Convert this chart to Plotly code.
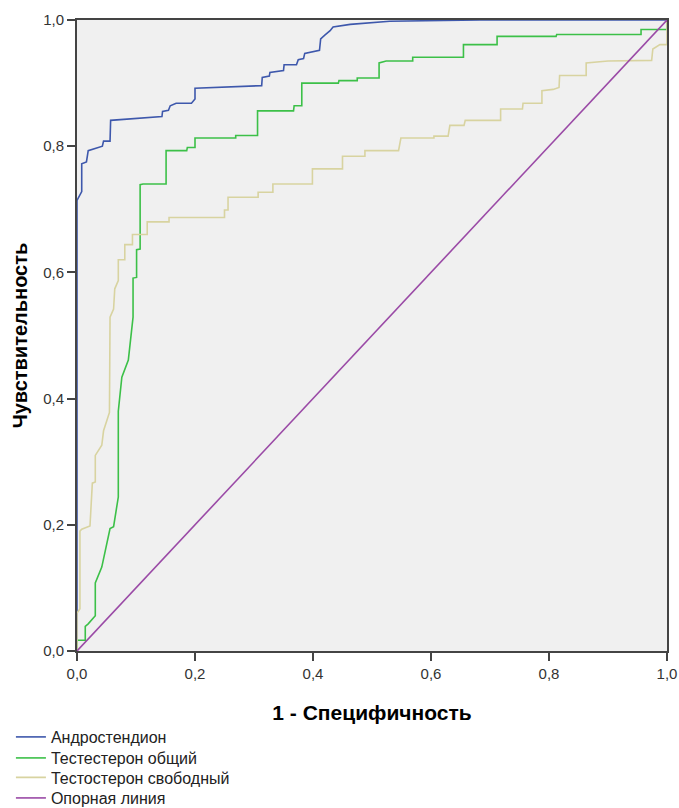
import plotly.graph_objects as go

# ROC curve vertices (1 - specificity, sensitivity)
andro_x = [0, 0, 0.008, 0.008, 0.016, 0.019, 0.043, 0.045, 0.056, 0.057, 0.144, 0.145, 0.155, 0.158,
           0.168, 0.194, 0.2, 0.2, 0.313, 0.314, 0.326, 0.327, 0.35, 0.351, 0.372, 0.375, 0.384, 0.386,
           0.411, 0.413, 0.42, 0.429, 0.434, 0.463, 0.53, 0.683, 1.0]
andro_y = [0, 0.714, 0.728, 0.772, 0.775, 0.793, 0.8, 0.808, 0.808, 0.841, 0.847, 0.855, 0.857, 0.864,
           0.868, 0.868, 0.875, 0.892, 0.896, 0.909, 0.911, 0.917, 0.92, 0.929, 0.929, 0.937, 0.939, 0.947,
           0.952, 0.97, 0.976, 0.983, 0.989, 0.993, 0.998, 1.0, 1.0]

testo_tot_x = [0, 0, 0.014, 0.014, 0.019, 0.031, 0.031, 0.042, 0.056, 0.062, 0.07, 0.07, 0.076, 0.087,
               0.095, 0.095, 0.101, 0.101, 0.107, 0.107, 0.112, 0.151, 0.151, 0.186, 0.187, 0.2, 0.2,
               0.269, 0.269, 0.306, 0.306, 0.367, 0.368, 0.381, 0.381, 0.443, 0.444, 0.475, 0.475, 0.512,
               0.512, 0.524, 0.569, 0.569, 0.655, 0.655, 0.712, 0.712, 0.812, 0.813, 0.956, 0.956, 1.0, 1.0]
testo_tot_y = [0, 0.017, 0.017, 0.039, 0.043, 0.056, 0.108, 0.133, 0.194, 0.197, 0.244, 0.38, 0.434, 0.461,
               0.529, 0.591, 0.592, 0.636, 0.637, 0.739, 0.74, 0.74, 0.793, 0.793, 0.798, 0.798, 0.813,
               0.813, 0.817, 0.817, 0.856, 0.856, 0.864, 0.864, 0.9, 0.9, 0.904, 0.904, 0.908, 0.908,
               0.932, 0.935, 0.935, 0.941, 0.941, 0.961, 0.961, 0.974, 0.974, 0.977, 0.977, 0.985, 0.985, 1.0]

testo_free_x = [0, 0, 0.005, 0.005, 0.008, 0.022, 0.026, 0.031, 0.031, 0.042, 0.045, 0.055, 0.056, 0.062,
                0.064, 0.07, 0.07, 0.081, 0.081, 0.094, 0.094, 0.119, 0.119, 0.156, 0.156, 0.25, 0.25,
                0.256, 0.256, 0.307, 0.307, 0.332, 0.332, 0.399, 0.399, 0.45, 0.45, 0.488, 0.488, 0.545,
                0.549, 0.605, 0.605, 0.629, 0.632, 0.656, 0.658, 0.718, 0.718, 0.755, 0.756, 0.788, 0.788,
                0.807, 0.817, 0.818, 0.863, 0.863, 0.9, 0.974, 0.976, 0.988, 1.0, 1.0]
testo_free_y = [0, 0.06, 0.067, 0.19, 0.193, 0.198, 0.266, 0.268, 0.31, 0.326, 0.349, 0.378, 0.529, 0.542,
                0.574, 0.587, 0.62, 0.62, 0.644, 0.644, 0.66, 0.66, 0.68, 0.68, 0.687, 0.687, 0.699,
                0.699, 0.719, 0.719, 0.727, 0.727, 0.74, 0.74, 0.764, 0.764, 0.784, 0.784, 0.793, 0.793,
                0.813, 0.813, 0.816, 0.816, 0.833, 0.833, 0.841, 0.841, 0.859, 0.859, 0.868, 0.868, 0.888,
                0.89, 0.893, 0.912, 0.912, 0.932, 0.935, 0.936, 0.954, 0.961, 0.961, 1.0]

ref_x = [0, 1]
ref_y = [0, 1]

names = ["Андростендион", "Тестестерон общий", "Тестостерон свободный", "Опорная линия"]
colors = ["#3E58AC", "#3CC048", "#D8D3A0", "#9A4AA6"]
tick_vals = [0, 0.2, 0.4, 0.6, 0.8, 1.0]

legend_ids = ["legend", "legend2", "legend3", "legend4"]
legend_ys = [-0.1363, -0.1696, -0.2005, -0.233]

fig = go.Figure()
for xs, ys, name, col, lid in zip([andro_x, testo_tot_x, testo_free_x, ref_x],
                                  [andro_y, testo_tot_y, testo_free_y, ref_y], names, colors, legend_ids):
    fig.add_trace(go.Scatter(x=xs, y=ys, mode="lines", name=name, legend=lid,
                             line=dict(color=col, width=1.6)))

axis_common = dict(range=[0, 1], tickvals=tick_vals, tickformat=".1f", showgrid=False, zeroline=False,
                   showline=True, linecolor="#444444", linewidth=2, mirror=True,
                   ticks="outside", ticklen=8, tickwidth=2, tickcolor="#444444",
                   tickfont=dict(size=15, color="#333333", family="Liberation Sans"))

legend_layout = {}
for lid, ly in zip(legend_ids, legend_ys):
    legend_layout[lid] = dict(x=-0.112, y=ly, xanchor="left", yanchor="middle", orientation="v",
                              bgcolor="rgba(0,0,0,0)", borderwidth=0,
                              font=dict(size=16, color="#222222", family="Liberation Sans"))

fig.update_layout(
    width=679, height=808,
    margin=dict(l=77, r=12, t=20, b=157, autoexpand=False),
    paper_bgcolor="white", plot_bgcolor="#F0F0F0",
    separators=", ",
    font=dict(family="Liberation Sans", color="#000000"),
    xaxis=dict(**axis_common,
               title=dict(text="<b>1 - Специфичность</b>", font=dict(size=21, color="#000000"), standoff=24)),
    yaxis=dict(**axis_common,
               title=dict(text="<b>Чувствительность</b>", font=dict(size=20, color="#000000"), standoff=10)),
    showlegend=True,
    **legend_layout,
)

fig.write_html("out.html",
               config={"displayModeBar": False},
               post_script="document.body.style.margin='0';document.body.style.padding='0';"
                           "document.documentElement.style.overflow='hidden';")
